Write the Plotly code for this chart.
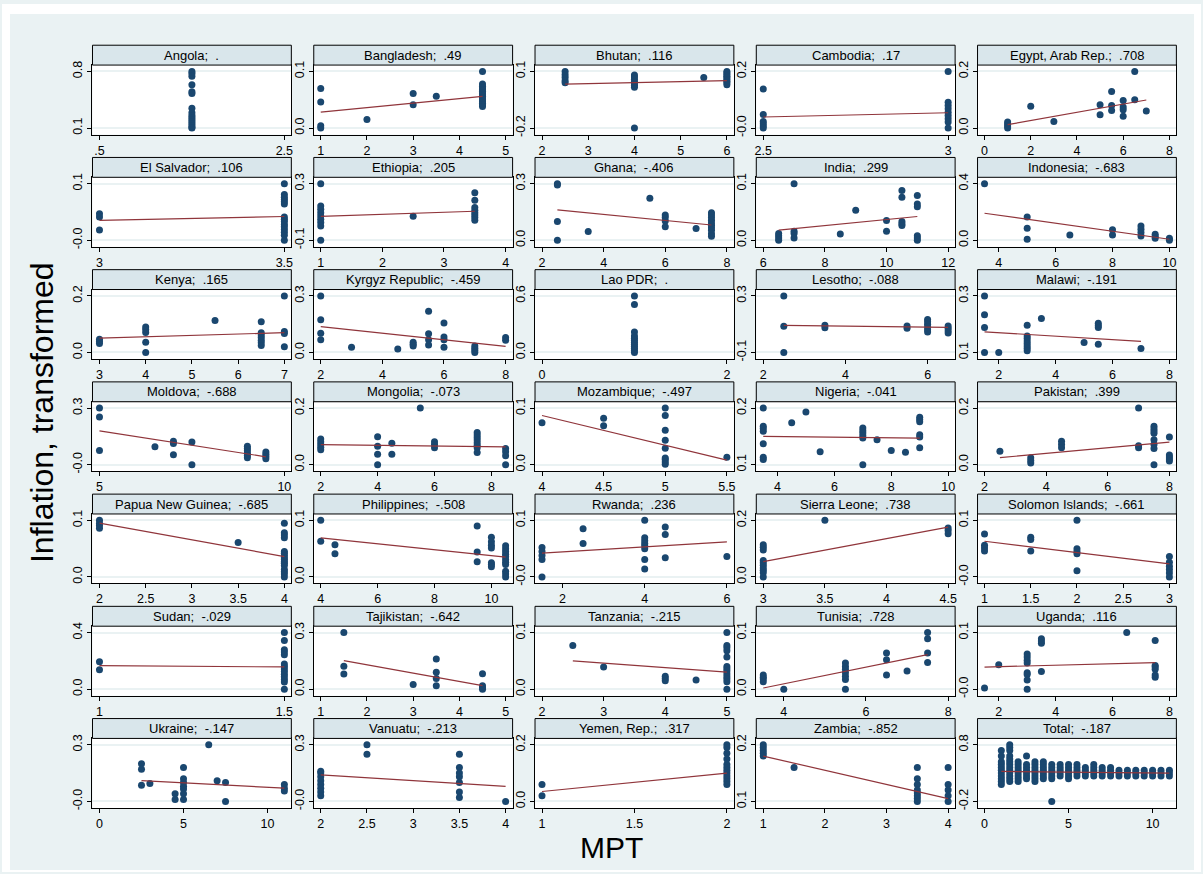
import plotly.graph_objects as go

# ---------------- data ----------------
countries = ["Angola", "Bangladesh", "Bhutan", "Cambodia", "Egypt, Arab Rep.",
             "El Salvador", "Ethiopia", "Ghana", "India", "Indonesia",
             "Kenya", "Kyrgyz Republic", "Lao PDR", "Lesotho", "Malawi",
             "Moldova", "Mongolia", "Mozambique", "Nigeria", "Pakistan",
             "Papua New Guinea", "Philippines", "Rwanda", "Sierra Leone", "Solomon Islands",
             "Sudan", "Tajikistan", "Tanzania", "Tunisia", "Uganda",
             "Ukraine", "Vanuatu", "Yemen, Rep.", "Zambia", "Total"]
corr_labels = [".", ".49", ".116", ".17", ".708",
               ".106", ".205", "-.406", ".299", "-.683",
               ".165", "-.459", ".", "-.088", "-.191",
               "-.688", "-.073", "-.497", "-.041", ".399",
               "-.685", "-.508", ".236", ".738", "-.661",
               "-.029", "-.642", "-.215", ".728", ".116",
               "-.147", "-.213", ".317", "-.852", "-.187"]
y_lo = [0.1, 0.0, -0.2, 0.0, 0.0,
        0.0, -0.1, 0.0, 0.0, 0.0,
        0.0, 0.0, 0.0, -0.1, 0.1,
        0.0, 0.0, 0.0, 0.1, 0.0,
        0.0, 0.0, 0.0, 0.0, 0.0,
        0.0, 0.0, 0.0, 0.0, 0.0,
        0.0, 0.0, 0.0, 0.1, -0.2]
y_hi = [0.8, 0.1, 0.1, 0.2, 0.2,
        0.1, 0.3, 0.3, 0.1, 0.4,
        0.2, 0.3, 0.6, 0.3, 0.3,
        0.3, 0.2, 0.1, 0.2, 0.2,
        0.1, 0.1, 0.1, 0.2, 0.1,
        0.4, 0.3, 0.1, 0.1, 0.1,
        0.3, 0.3, 0.2, 0.2, 0.8]
y_lo_text = ["0.1", "0.0", "-0.2", "-0.0", "0.0",
             "-0.0", "-0.1", "0.0", "0.0", "0.0",
             "0.0", "0.0", "0.0", "-0.1", "0.1",
             "-0.0", "0.0", "0.0", "0.1", "0.0",
             "0.0", "0.0", "-0.0", "0.0", "-0.0",
             "0.0", "0.0", "0.0", "0.0", "-0.0",
             "-0.0", "-0.0", "0.0", "0.1", "-0.2"]
y_hi_text = ["0.8", "0.1", "0.1", "0.2", "0.2",
             "0.1", "0.3", "0.3", "0.1", "0.4",
             "0.2", "0.3", "0.6", "0.3", "0.3",
             "0.3", "0.2", "0.1", "0.2", "0.2",
             "0.1", "0.1", "0.1", "0.2", "0.1",
             "0.4", "0.3", "0.1", "0.1", "0.1",
             "0.3", "0.3", "0.2", "0.2", "0.8"]
x_ticks = [[0.5, 2.5], [1, 2, 3, 4, 5], [2, 3, 4, 5, 6], [2.5, 3], [0, 2, 4, 6, 8],
           [3, 3.5], [1, 2, 3, 4], [2, 4, 6, 8], [6, 8, 10, 12], [4, 6, 8, 10],
           [3, 4, 5, 6, 7], [2, 4, 6, 8], [0, 2], [2, 4, 6], [2, 4, 6, 8],
           [5, 10], [2, 4, 6, 8], [4, 4.5, 5, 5.5], [4, 6, 8, 10], [2, 4, 6, 8],
           [2, 2.5, 3, 3.5, 4], [4, 6, 8, 10], [2, 4, 6], [3, 3.5, 4, 4.5], [1, 1.5, 2, 2.5, 3],
           [1, 1.5], [1, 2, 3, 4, 5], [2, 3, 4, 5], [4, 6, 8], [2, 4, 6, 8],
           [0, 5, 10], [2, 2.5, 3, 3.5, 4], [1, 1.5, 2], [1, 2, 3, 4], [0, 5, 10]]

# points: MPT value -> inflation values
ANGOLA = {1.5: [0.8, 0.775, 0.739, 0.636, 0.55, 0.526, 0.346, 0.288, 0.256, 0.231, 0.206, 0.182, 0.157, 0.133, 0.108, 0.1]}
BANGLADESH = {1: [0.070, 0.046, 0.004, 0.0], 2: [0.015], 3: [0.061, 0.041], 3.5: [0.056],
              4.5: [0.1, 0.078, 0.074, 0.071, 0.068, 0.065, 0.062, 0.059, 0.056, 0.053, 0.05, 0.047, 0.044, 0.041, 0.038]}
BHUTAN = {2.5: [0.1, 0.082, 0.068, 0.05, 0.04], 4: [0.081, 0.07, 0.058, 0.046, 0.035, 0.025, 0.016, -0.2],
          5.5: [0.068], 6: [0.1, 0.092, 0.083, 0.074, 0.066, 0.057, 0.048, 0.04, 0.03]}
CAMBODIA = {2.5: [0.138, 0.048, 0.023, 0.015, 0.007, 0.0], 3: [0.2, 0.091, 0.08, 0.068, 0.056, 0.044, 0.033, 0.021, 0.0]}
EGYPT = {1: [0.021, 0.014, 0.007, 0.0], 2: [0.077], 3: [0.023], 5: [0.082, 0.047], 5.5: [0.129, 0.08, 0.062],
         6: [0.097, 0.074, 0.065, 0.042], 6.5: [0.2, 0.1], 7: [0.06]}
EL_SALVADOR = {3: [0.047, 0.041, 0.018],
               3.5: [0.1, 0.081, 0.076, 0.072, 0.068, 0.064, 0.041, 0.037, 0.033, 0.028, 0.024, 0.019, 0.014, 0.009, 0.0]}
ETHIOPIA = {1: [0.3, 0.142, 0.119, 0.095, 0.072, 0.048, 0.025, 0.001, -0.1], 2.5: [0.069],
            3.5: [0.236, 0.182, 0.131, 0.112, 0.095, 0.079, 0.06, 0.041]}
GHANA = {2.5: [0.3, 0.293, 0.099, 0.0], 3.5: [0.046], 5.5: [0.222], 6: [0.134, 0.12, 0.102, 0.071], 7: [0.062],
         7.5: [0.146, 0.134, 0.12, 0.106, 0.092, 0.08, 0.066, 0.053, 0.035, 0.021]}
INDIA = {6.5: [0.012, 0.008, 0.004, 0.0], 7: [0.1, 0.016, 0.012, 0.004], 8.5: [0.011], 9: [0.053], 10: [0.035, 0.016],
         10.5: [0.088, 0.076, 0.033, 0.029, 0.026], 11: [0.079, 0.064, 0.059, 0.008, 0.004, 0.0]}
INDONESIA = {3.5: [0.4], 5: [0.165, 0.085, 0.007], 6.5: [0.038], 8: [0.075, 0.038], 9: [0.101, 0.078, 0.054, 0.031],
             9.5: [0.042, 0.028, 0.014], 10: [0.014, 0.0]}
KENYA = {3: [0.047, 0.039, 0.032], 4: [0.09, 0.081, 0.071, 0.036, 0.0], 5.5: [0.113],
         6.5: [0.109, 0.07, 0.062, 0.053, 0.043, 0.034, 0.025], 7: [0.2, 0.074, 0.067, 0.02]}
KYRGYZ = {2: [0.3, 0.174, 0.102, 0.068], 3: [0.028], 4.5: [0.018], 5: [0.054, 0.044, 0.035], 5.5: [0.218, 0.1, 0.068, 0.04],
          6: [0.156, 0.082, 0.068, 0.028], 7: [0.035, 0.023, 0.012, 0.0], 8: [0.079, 0.065]}
LAO = {1: [0.6, 0.509, 0.218, 0.175, 0.151, 0.13, 0.109, 0.088, 0.067, 0.046, 0.025, 0.0]}
LESOTHO = {2.5: [0.3, 0.085, -0.1], 3.5: [0.092, 0.075], 5.5: [0.087, 0.071], 6: [0.134, 0.118, 0.099, 0.08, 0.061, 0.045],
           6.5: [0.087, 0.071, 0.054, 0.038]}
MALAWI = {1.5: [0.3, 0.233, 0.188, 0.1], 2: [0.1], 3: [0.196, 0.158, 0.15, 0.141, 0.132, 0.123, 0.115, 0.106], 3.5: [0.22],
          5: [0.135], 5.5: [0.203, 0.195, 0.188, 0.129], 7: [0.114]}
MOLDOVA = {5: [0.3, 0.253, 0.075], 6.5: [0.095], 7: [0.125, 0.112, 0.053], 7.5: [0.121, 0.0],
           9: [0.098, 0.086, 0.074, 0.061, 0.049, 0.037], 9.5: [0.068, 0.056, 0.044, 0.032]}
MONGOLIA = {2: [0.091, 0.081, 0.071, 0.062, 0.053], 4: [0.099, 0.065, 0.037, 0.0], 4.5: [0.076, 0.037], 5.5: [0.2],
            6: [0.081, 0.071, 0.06], 7.5: [0.114, 0.105, 0.096, 0.087, 0.078, 0.069, 0.06, 0.043], 8.5: [0.057, 0.046, 0.032, 0.0]}
MOZAMBIQUE = {4: [0.074], 4.5: [0.082, 0.069], 5: [0.1, 0.087, 0.061, 0.043, 0.029, 0.012, 0.009, 0.005, 0.001], 5.5: [0.013]}
NIGERIA = {3.5: [0.2, 0.168, 0.164, 0.159, 0.137, 0.113, 0.109], 4.5: [0.174], 5: [0.193], 5.5: [0.123],
           7: [0.165, 0.16, 0.156, 0.151, 0.147, 0.1], 7.5: [0.144], 8: [0.125], 8.5: [0.122],
           9: [0.184, 0.18, 0.176, 0.153, 0.149, 0.13]}
PAKISTAN = {2.5: [0.048], 3.5: [0.025, 0.015, 0.006], 4.5: [0.083, 0.071, 0.06], 7: [0.2, 0.067, 0.06],
            7.5: [0.136, 0.127, 0.119, 0.111, 0.088, 0.071, 0.057, 0.0], 8: [0.098, 0.034, 0.027, 0.02, 0.013]}
PNG = {2: [0.1, 0.095, 0.091, 0.086], 3.5: [0.061],
       4: [0.095, 0.078, 0.074, 0.069, 0.045, 0.042, 0.038, 0.034, 0.031, 0.027, 0.024, 0.02, 0.013, 0.009, 0.005, 0.0]}
PHILIPPINES = {4: [0.1, 0.063], 4.5: [0.057, 0.041], 9.5: [0.09, 0.044, 0.027],
               10: [0.07, 0.062, 0.056, 0.051, 0.025, 0.022, 0.018],
               10.5: [0.055, 0.05, 0.045, 0.04, 0.036, 0.031, 0.026, 0.022, 0.01, 0.005, 0.0]}
RWANDA = {1.5: [0.052, 0.045, 0.038, 0.031, 0.0], 2.5: [0.085, 0.059], 4: [0.1, 0.069, 0.064, 0.059, 0.055, 0.05, 0.031, 0.014],
          4.5: [0.088, 0.075, 0.034], 6: [0.036]}
SIERRA_LEONE = {3: [0.114, 0.105, 0.095, 0.058, 0.05, 0.041, 0.032, 0.024, 0.015, 0.0], 3.5: [0.2], 4.5: [0.173, 0.164, 0.153]}
SOLOMON = {1: [0.076, 0.056, 0.051, 0.046], 1.5: [0.07, 0.066, 0.046], 2: [0.1, 0.05, 0.045, 0.041, 0.011],
           3: [0.036, 0.026, 0.019, 0.013, 0.007, 0.0]}
SUDAN = {1: [0.194, 0.138], 1.5: [0.4, 0.344, 0.278, 0.262, 0.243, 0.178, 0.16, 0.142, 0.124, 0.105, 0.087, 0.068, 0.05, 0.0]}
TAJIKISTAN = {1.5: [0.3, 0.121, 0.081], 3: [0.025], 3.5: [0.16, 0.089, 0.056, 0.018], 4.5: [0.082, 0.018, 0.007, 0.0]}
TANZANIA = {2.5: [0.077], 3: [0.039], 4: [0.023, 0.019, 0.015], 4.5: [0.016],
            5: [0.1, 0.077, 0.073, 0.068, 0.057, 0.04, 0.036, 0.032, 0.027, 0.022, 0.018, 0.013, 0.0]}
TUNISIA = {3.5: [0.025, 0.021, 0.018, 0.013], 4: [0.0], 5.5: [0.046, 0.04, 0.035, 0.029, 0.023, 0.017, 0.0],
           6.5: [0.064, 0.052, 0.025], 7: [0.032], 7.5: [0.1, 0.089, 0.064, 0.047]}
UGANDA = {1.5: [0.002], 2: [0.043], 3: [0.062, 0.057, 0.051, 0.046, 0.029, 0.026, 0.016, 0.0], 3.5: [0.089, 0.085, 0.081, 0.031],
          6.5: [0.1], 7.5: [0.086, 0.042, 0.039, 0.035, 0.025, 0.021]}
UKRAINE = {2.5: [0.2, 0.17, 0.085], 3: [0.095], 4.5: [0.04, 0.01], 5: [0.18, 0.12, 0.1, 0.08, 0.065, 0.04, 0.01],
           6.5: [0.3], 7: [0.11], 7.5: [0.1, 0.0], 11: [0.09, 0.07, 0.055]}
VANUATU = {2: [0.16, 0.15, 0.13, 0.11, 0.09, 0.07, 0.05, 0.03], 2.5: [0.3, 0.25],
           3.5: [0.25, 0.18, 0.15, 0.13, 0.1, 0.05, 0.02], 4: [0.0]}
YEMEN = {1: [0.06, 0.02], 2: [0.2, 0.19, 0.17, 0.15, 0.13, 0.12, 0.11, 0.1, 0.09, 0.08, 0.07, 0.06]}
ZAMBIA = {1: [0.2, 0.195, 0.19, 0.185, 0.18], 1.5: [0.16], 3.5: [0.16, 0.14, 0.13, 0.12, 0.115, 0.11, 0.105, 0.1],
          4: [0.16, 0.13, 0.12, 0.11, 0.1]}
TOTAL = {1: [0.7, 0.6, 0.5, 0.45, 0.4, 0.35, 0.3, 0.25, 0.2, 0.15, 0.1],
         1.5: [0.8, 0.75, 0.7, 0.6, 0.55, 0.5, 0.45, 0.4, 0.35, 0.3, 0.25, 0.2, 0.15],
         2: [0.5, 0.45, 0.4, 0.35, 0.3, 0.25, 0.2, 0.15], 2.5: [0.6, 0.45, 0.4, 0.35, 0.3, 0.25, 0.2],
         3: [0.5, 0.45, 0.4, 0.35, 0.3, 0.25, 0.2, 0.15], 3.5: [0.5, 0.45, 0.4, 0.35, 0.3, 0.25, 0.2],
         4: [0.45, 0.4, 0.35, 0.3, 0.25, 0.2, -0.2], 4.5: [0.45, 0.4, 0.35, 0.3, 0.25],
         5: [0.45, 0.4, 0.35, 0.3, 0.25, 0.2], 5.5: [0.45, 0.4, 0.35, 0.3, 0.25],
         6: [0.4, 0.35, 0.3, 0.25], 6.5: [0.45, 0.4, 0.35, 0.3, 0.25], 7: [0.4, 0.35, 0.3, 0.25],
         7.5: [0.4, 0.35, 0.3, 0.25], 8: [0.35, 0.3, 0.25], 8.5: [0.35, 0.3, 0.25], 9: [0.35, 0.3, 0.25],
         9.5: [0.35, 0.3, 0.25], 10: [0.35, 0.3, 0.25], 10.5: [0.35, 0.3, 0.25], 11: [0.35, 0.3, 0.25]}

points = [ANGOLA, BANGLADESH, BHUTAN, CAMBODIA, EGYPT,
          EL_SALVADOR, ETHIOPIA, GHANA, INDIA, INDONESIA,
          KENYA, KYRGYZ, LAO, LESOTHO, MALAWI,
          MOLDOVA, MONGOLIA, MOZAMBIQUE, NIGERIA, PAKISTAN,
          PNG, PHILIPPINES, RWANDA, SIERRA_LEONE, SOLOMON,
          SUDAN, TAJIKISTAN, TANZANIA, TUNISIA, UGANDA,
          UKRAINE, VANUATU, YEMEN, ZAMBIA, TOTAL]
# fitted-line values at the lowest and highest MPT of each panel (None = no fit)
fit_start = [None, 0.028, 0.033, 0.039, 0.012,
             0.035, 0.069, 0.161, 0.018, 0.191,
             0.051, 0.137, None, 0.092, 0.173,
             0.179, 0.071, 0.087, 0.150, 0.025,
             0.095, 0.069, 0.042, 0.054, 0.063,
             0.166, 0.151, 0.050, 0.002, 0.039,
             0.110, 0.140, 0.035, 0.180, 0.33]
fit_end = [None, 0.056, 0.051, 0.054, 0.099,
           0.042, 0.105, 0.081, 0.042, 0.007,
           0.070, 0.032, None, 0.078, 0.139,
           0.042, 0.063, 0.008, 0.147, 0.080,
           0.036, 0.035, 0.062, 0.176, 0.023,
           0.157, 0.019, 0.030, 0.061, 0.047,
           0.070, 0.080, 0.100, 0.105, 0.30]

# ---------------- styling ----------------
W, H = 1203, 874
NAVY = "#1a476f"
MAROON = "#90353b"
BG = "#eaf2f3"
STRIP = "#d9e6eb"
FONT = "Liberation Sans, Arial, sans-serif"


def px(x):
    return x / W


def py(y):
    return 1 - y / H


def fmt(v):
    s = f"{v:g}"
    if s.startswith("0."):
        s = s[1:]
    return s


fig = go.Figure()
layout = {}
shapes = []
annotations = []

for i, name in enumerate(countries):
    r, c = divmod(i, 5)
    L = 90.8 + 222 * c
    R = L + 199.5
    Ht = 41.5 + 113 * r
    HB = Ht + 20
    AB = Ht + 90
    pts = points[i]
    xs, ys = [], []
    for xv, yl in pts.items():
        for yv in yl:
            xs.append(xv)
            ys.append(yv)
    ylo, yhi = y_lo[i], y_hi[i]
    dy = yhi - ylo
    yr = [ylo - 6.6 / 57 * dy, yhi + 6.4 / 57 * dy]
    xt = x_ticks[i]
    xlo = min(min(xt), min(xs))
    xhi = max(max(xt), max(xs))
    dx = xhi - xlo
    xr = [xlo - 7 / 185.5 * dx, xhi + 7 / 185.5 * dx]

    sfx = "" if i == 0 else str(i + 1)
    xa, ya = "x" + sfx, "y" + sfx
    layout["xaxis" + sfx] = dict(
        domain=[px(L), px(R)], anchor=ya, range=xr, tickvals=xt,
        ticktext=[fmt(v) for v in xt], ticks="outside", ticklen=4, tickcolor="#000",
        showline=True, mirror=True, linecolor="#000", linewidth=1,
        showgrid=False, zeroline=False, tickfont=dict(size=12.5, color="#000", family=FONT))
    layout["yaxis" + sfx] = dict(
        domain=[py(AB), py(HB)], anchor=xa, range=yr, tickvals=[ylo, yhi],
        ticktext=[y_lo_text[i], y_hi_text[i]], tickangle=-90, ticks="outside", ticklen=4,
        tickcolor="#000", showline=True, mirror=True, linecolor="#000", linewidth=1,
        showgrid=True, gridcolor=BG, gridwidth=1.6, zeroline=False,
        tickfont=dict(size=12.5, color="#000", family=FONT))

    fig.add_trace(go.Scatter(x=xs, y=ys, mode="markers", xaxis=xa, yaxis=ya,
                             marker=dict(color=NAVY, size=7, line=dict(width=0)),
                             showlegend=False, hoverinfo="skip"))
    if fit_start[i] is not None:
        fig.add_trace(go.Scatter(x=[min(xs), max(xs)], y=[fit_start[i], fit_end[i]],
                                 mode="lines", xaxis=xa, yaxis=ya,
                                 line=dict(color=MAROON, width=1.2),
                                 showlegend=False, hoverinfo="skip"))

    shapes.append(dict(type="rect", xref="paper", yref="paper",
                       x0=px(L), x1=px(R), y0=py(HB), y1=py(Ht),
                       fillcolor=STRIP, line=dict(color="#000", width=1), layer="above"))
    annotations.append(dict(xref="paper", yref="paper", x=px((L + R) / 2), y=py((Ht + HB) / 2),
                            text=f"{name};\u00a0 {corr_labels[i]}", showarrow=False,
                            xanchor="center", yanchor="middle",
                            font=dict(size=13, color="#000", family=FONT)))

# white outer margins
for (x0, x1, y0, y1) in [(0, W, 0, 10), (0, W, 872, H), (0, 8, 0, H), (1196, W, 0, H)]:
    shapes.append(dict(type="rect", xref="paper", yref="paper",
                       x0=px(x0), x1=px(x1), y0=py(y1), y1=py(y0),
                       fillcolor="#ffffff", line=dict(width=0), layer="below"))

annotations.append(dict(xref="paper", yref="paper", x=px(40), y=py(411),
                        text="Inflation, transformed", textangle=-90, showarrow=False,
                        xanchor="center", yanchor="middle",
                        font=dict(size=32, color="#000", family=FONT)))
annotations.append(dict(xref="paper", yref="paper", x=px(612), y=py(849),
                        text="MPT", showarrow=False, xanchor="center", yanchor="middle",
                        font=dict(size=30, color="#000", family=FONT)))

fig.update_layout(width=W, height=H, margin=dict(l=0, r=0, t=0, b=0),
                  paper_bgcolor=BG, plot_bgcolor="#ffffff",
                  shapes=shapes, annotations=annotations,
                  font=dict(family=FONT), **layout)

fig.write_html("out.html")
